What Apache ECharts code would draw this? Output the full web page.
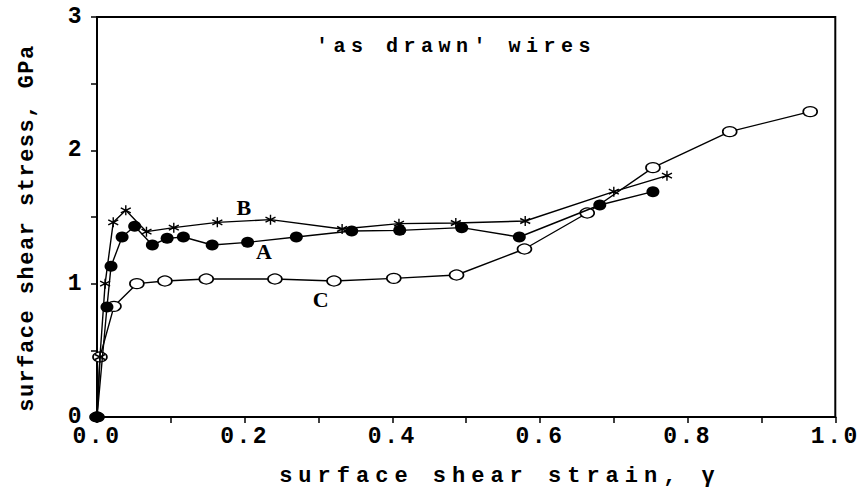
<!DOCTYPE html>
<html><head><meta charset="utf-8">
<script src="https://cdn.jsdelivr.net/npm/echarts@6/dist/echarts.min.js"></script>
<style>html,body{margin:0;padding:0;background:#fff}#c{width:859px;height:495px}</style>
</head><body><div id="c"></div>
<script>
// ---- data ----
const xTickLabels = ['0.0', '0.2', '0.4', '0.6', '0.8', '1.0'];
const yTickLabels = ['0', '1', '2', '3'];

const strainA = [0, 0.0135, 0.019, 0.034, 0.051, 0.075, 0.095, 0.117, 0.156, 0.204, 0.27, 0.345, 0.41, 0.494, 0.572, 0.681, 0.753];
const stressA = [0, 0.825, 1.13, 1.35, 1.43, 1.29, 1.34, 1.35, 1.29, 1.31, 1.35, 1.395, 1.40, 1.42, 1.35, 1.59, 1.69];

const strainB = [0, 0.004, 0.011, 0.022, 0.039, 0.067, 0.104, 0.163, 0.235, 0.332, 0.409, 0.486, 0.58, 0.70, 0.772];
const stressB = [0, 0.45, 1.0, 1.46, 1.55, 1.39, 1.42, 1.46, 1.48, 1.41, 1.45, 1.455, 1.47, 1.69, 1.81];

const strainC = [0, 0.004, 0.023, 0.054, 0.092, 0.148, 0.241, 0.321, 0.402, 0.487, 0.579, 0.664, 0.753, 0.857, 0.966];
const stressC = [0, 0.45, 0.83, 1.0, 1.02, 1.035, 1.035, 1.02, 1.04, 1.065, 1.26, 1.53, 1.87, 2.14, 2.29];

const curveNames = ['A', 'B', 'C'];
const curveLabelX = [0.226, 0.199, 0.303];
const curveLabelY = [1.24, 1.57, 0.88];

const titleText = "'as drawn' wires";
const xName = 'surface shear strain, \u03b3';
const yName = 'surface shear stress, GPa';

// ---- chart ----
const pair = (xs, ys) => xs.map((x, i) => [x, ys[i]]);
const MONO = '"Liberation Mono", "DejaVu Sans Mono", monospace';
const chart = echarts.init(document.getElementById('c'), null, { renderer: 'svg' });

const star = 'path://M5,0L5,10M0.7,2.5L9.3,7.5M0.7,7.5L9.3,2.5';

const option = {
  animation: false,
  backgroundColor: '#fff',
  grid: { left: 97, right: 21, top: 17, bottom: 78, show: true, borderColor: '#000', borderWidth: 2, backgroundColor: 'transparent' },
  xAxis: {
    type: 'value', min: 0, max: 1, interval: 0.2,
    axisLine: { show: true, lineStyle: { color: '#000', width: 2 } },
    axisTick: { show: true, length: 6, lineStyle: { color: '#000', width: 1.5 } },
    minorTick: { show: true, splitNumber: 2, length: 6, lineStyle: { color: '#000', width: 1.5 } },
    splitLine: { show: false },
    axisLabel: {
      margin: 8, color: '#000', fontFamily: MONO, fontWeight: 'bold', fontSize: 23,
      formatter: v => xTickLabels[Math.round(v / 0.2)]
    }
  },
  yAxis: {
    type: 'value', min: 0, max: 3, interval: 1,
    axisLine: { show: true, lineStyle: { color: '#000', width: 2 } },
    axisTick: { show: true, length: 6, lineStyle: { color: '#000', width: 1.5 } },
    minorTick: { show: true, splitNumber: 2, length: 6, lineStyle: { color: '#000', width: 1.5 } },
    splitLine: { show: false },
    axisLabel: {
      margin: 13, color: '#000', fontFamily: MONO, fontWeight: 'bold', fontSize: 23,
      formatter: v => yTickLabels[Math.round(v)]
    }
  },
  graphic: [
    { type: 'text', x: 456, y: 46, style: { text: titleText, font: 'bold 20px ' + MONO, fill: '#000', align: 'center', verticalAlign: 'middle', textAlign: 'center', textVerticalAlign: 'middle' } },
    { type: 'text', x: 500, y: 476, style: { text: xName, font: 'bold 22px ' + MONO, fill: '#000', align: 'center', verticalAlign: 'middle', textAlign: 'center', textVerticalAlign: 'middle' } },
    { type: 'text', x: 27, y: 228, rotation: Math.PI / 2, style: { text: yName, font: 'bold 22px ' + MONO, fill: '#000', align: 'center', verticalAlign: 'middle', textAlign: 'center', textVerticalAlign: 'middle' } }
  ],
  series: [
    {
      type: 'line', name: 'C', data: pair(strainC, stressC),
      symbol: 'circle', symbolSize: [14, 10],
      lineStyle: { color: '#000', width: 1.4 },
      itemStyle: { color: '#fff', borderColor: '#000', borderWidth: 1.4 },
      markPoint: {
        symbol: 'circle', symbolSize: 0,
        label: { show: true, position: 'inside', formatter: '{b}', color: '#000', fontFamily: '"Liberation Serif", serif', fontWeight: 'bold', fontSize: 22 },
        data: curveNames.map((n, i) => ({ name: n, coord: [curveLabelX[i], curveLabelY[i]] }))
      },
      z: 2
    },
    {
      type: 'line', name: 'B', data: pair(strainB, stressB),
      symbol: star, symbolSize: 10,
      lineStyle: { color: '#000', width: 1.4 },
      itemStyle: { color: '#000', borderColor: '#000', borderWidth: 1.4 },
      z: 3
    },
    {
      type: 'line', name: 'A', data: pair(strainA, stressA),
      symbol: 'circle', symbolSize: [13, 11],
      lineStyle: { color: '#000', width: 1.4 },
      itemStyle: { color: '#000', borderColor: '#000', borderWidth: 0 },
      z: 4
    }
  ]
};
chart.setOption(option);

const spacing = {};
spacing[xName] = 6;
spacing[yName] = 1.5;
spacing[titleText] = 5.5;
function applySpacing() {
  document.querySelectorAll('#c svg text').forEach(t => {
    const s = t.textContent;
    let ls = spacing[s];
    if (ls === undefined && /^[0-9.]+$/.test(s)) ls = 2.5;
    if (ls) t.style.letterSpacing = ls + 'px';
  });
}
applySpacing();
chart.on('finished', applySpacing);
chart.on('rendered', applySpacing);
setTimeout(applySpacing, 0);
</script>
</body></html>
